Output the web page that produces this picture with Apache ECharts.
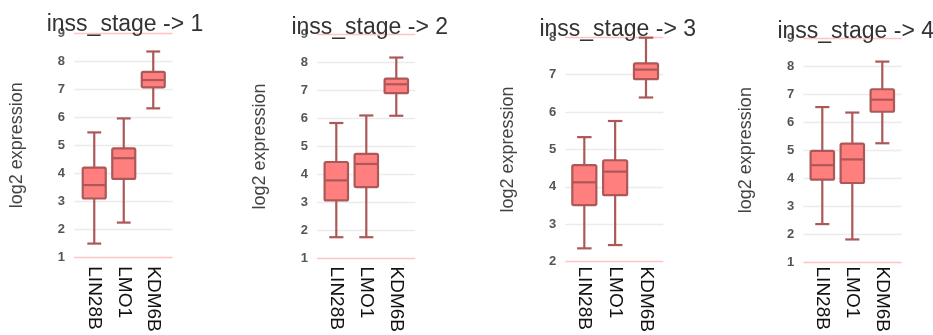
<!DOCTYPE html>
<html>
<head>
<meta charset="utf-8">
<script src="https://cdn.jsdelivr.net/npm/echarts@6/dist/echarts.min.js"></script>
<style>
html,body{margin:0;padding:0;background:#fff;}
#chart{width:933px;height:335px;}
</style>
</head>
<body>
<div id="chart"></div>
<script>
// ---- data ----
const categories = ['LIN28B', 'LMO1', 'KDM6B'];
const panelTitles = ['inss_stage -> 1', 'inss_stage -> 2', 'inss_stage -> 3', 'inss_stage -> 4'];
const yAxisName = 'log2 expression';
// [lower whisker, Q1, median, Q3, upper whisker] per category
const stage1 = [[1.49, 3.10, 3.58, 4.20, 5.46], [2.24, 3.80, 4.54, 4.89, 5.96], [6.32, 7.07, 7.33, 7.62, 8.35]];
const stage2 = [[1.73, 3.05, 3.77, 4.43, 5.83], [1.73, 3.53, 4.36, 4.72, 6.10], [6.09, 6.90, 7.22, 7.42, 8.18]];
const stage3 = [[2.25, 3.43, 4.05, 4.52, 5.28], [2.34, 3.70, 4.34, 4.65, 5.72], [6.36, 6.86, 7.12, 7.29, 7.99]];
const stage4 = [[2.22, 3.84, 4.37, 4.89, 6.49], [1.66, 3.72, 4.58, 5.16, 6.29], [5.17, 6.32, 6.76, 7.14, 8.15]];
const yMins = [1, 1, 2, 1];
const yMaxs = [9, 9, 8, 9];

const stages = [stage1, stage2, stage3, stage4];

// ---- layout ----
const bgGrids = [
  {left: 74, top: 33.3, width: 98.7, height: 224},
  {left: 317, top: 34.7, width: 98.3, height: 223.6},
  {left: 565.3, top: 37.3, width: 98, height: 224.4},
  {left: 803.3, top: 38.3, width: 98.4, height: 223.7}
];
const fgLefts = [79.5, 321.3, 568.9, 807.3];
const fgWidths = [88.5, 90, 92.5, 90];
const titleX = [120, 364.7, 612.7, 850.7];
const titleY = [8, 11, 13, 15];

const FILL = '#ff7f7f';
const STROKE = '#ad5858';
const PINK = '#ffc4c4';
const GRID = '#ececec';
const FONT = 'Liberation Sans, Arial, sans-serif';

function renderItem(params, api) {
  const x = api.value(0);
  const lo = api.coord([x, api.value(1)]);
  const q1 = api.coord([x, api.value(2)]);
  const md = api.coord([x, api.value(3)]);
  const q3 = api.coord([x, api.value(4)]);
  const hi = api.coord([x, api.value(5)]);
  const band = api.size([1, 0])[0];
  const bw = band * 0.78;
  const cw = band * 0.47;
  const cx = lo[0];
  const ls = {stroke: STROKE, lineWidth: 2.2, fill: null};
  return {
    type: 'group',
    children: [
      {type: 'line', shape: {x1: cx, y1: hi[1], x2: cx, y2: q3[1]}, style: ls},
      {type: 'line', shape: {x1: cx, y1: q1[1], x2: cx, y2: lo[1]}, style: ls},
      {type: 'line', shape: {x1: cx - cw / 2, y1: hi[1], x2: cx + cw / 2, y2: hi[1]}, style: ls},
      {type: 'line', shape: {x1: cx - cw / 2, y1: lo[1], x2: cx + cw / 2, y2: lo[1]}, style: ls},
      {type: 'rect', shape: {x: cx - bw / 2, y: q3[1], width: bw, height: q1[1] - q3[1], r: 1.5},
        style: {fill: FILL, stroke: STROKE, lineWidth: 2.2}},
      {type: 'line', shape: {x1: cx - bw / 2, y1: md[1], x2: cx + bw / 2, y2: md[1]}, style: ls}
    ]
  };
}

const grids = [], xAxes = [], yAxes = [], series = [], titles = [];
for (let i = 0; i < 4; i++) {
  const n = yMaxs[i] - yMins[i] + 1;
  const colors = [];
  for (let k = 0; k < n; k++) colors.push(k === 0 || k === n - 1 ? PINK : GRID);
  grids.push(Object.assign({containLabel: false}, bgGrids[i]));
  grids.push({left: fgLefts[i], width: fgWidths[i], top: bgGrids[i].top, height: bgGrids[i].height});
  const bi = i * 2, fi = i * 2 + 1;
  xAxes.push({gridIndex: bi, type: 'value', show: false, min: 0, max: 1});
  xAxes.push({
    gridIndex: fi, type: 'category', data: categories, boundaryGap: true,
    axisLine: {show: false}, axisTick: {show: false}, splitLine: {show: false},
    axisLabel: {rotate: -90, margin: 9, fontSize: 19, color: '#111', fontFamily: FONT, interval: 0}
  });
  yAxes.push({
    gridIndex: bi, type: 'value', min: yMins[i], max: yMaxs[i], interval: 1,
    name: yAxisName, nameLocation: 'middle', nameGap: 48,
    nameTextStyle: {fontSize: 18, color: '#444', fontFamily: FONT},
    axisLine: {show: false}, axisTick: {show: false},
    axisLabel: {fontSize: 13, color: '#555', fontWeight: 'bold', margin: 9, fontFamily: FONT},
    splitLine: {show: true, lineStyle: {color: colors, width: 1.3}}
  });
  yAxes.push({gridIndex: fi, type: 'value', min: yMins[i], max: yMaxs[i], interval: 1, show: false, splitLine: {show: false}});
  series.push({
    type: 'custom', xAxisIndex: fi, yAxisIndex: fi,
    renderItem: renderItem,
    encode: {x: 0, y: [1, 2, 3, 4, 5]},
    data: stages[i].map((d, j) => [j].concat(d))
  });
  titles.push({
    text: panelTitles[i], left: titleX[i], top: titleY[i], textAlign: 'center',
    textStyle: {fontSize: 23, fontWeight: 'normal', color: '#333', fontFamily: FONT}
  });
}

const chart = echarts.init(document.getElementById('chart'), null, {renderer: 'canvas'});
chart.setOption({
  animation: false,
  backgroundColor: '#fff',
  title: titles,
  grid: grids,
  xAxis: xAxes,
  yAxis: yAxes,
  series: series
});
</script>
</body>
</html>
